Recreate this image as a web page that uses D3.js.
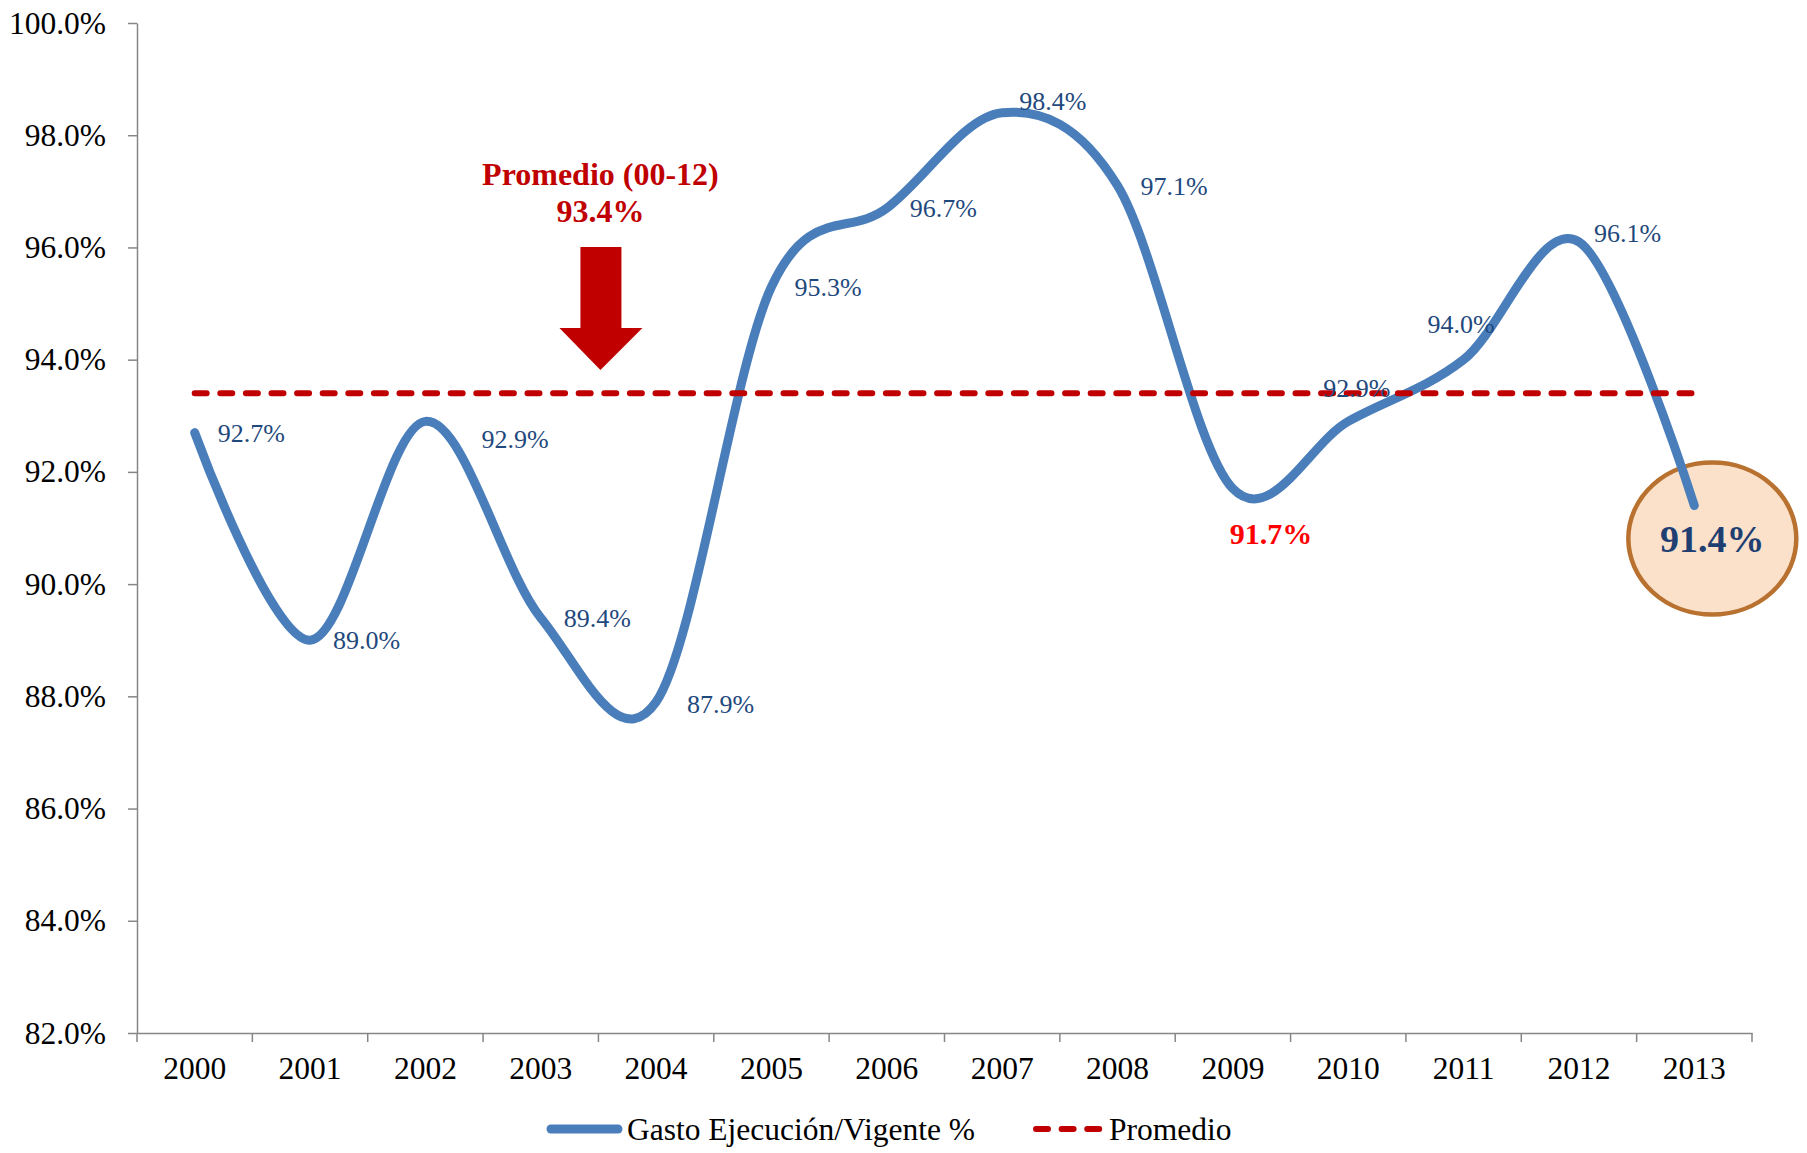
<!DOCTYPE html>
<html>
<head>
<meta charset="utf-8">
<script src="https://d3js.org/d3.v7.min.js"></script>
<style>
  body { margin: 0; background: #fff; }
  text { font-family: "Liberation Serif", "Times New Roman", serif; }
</style>
</head>
<body>
<script>
// data
var years = ["2000", "2001", "2002", "2003", "2004", "2005", "2006",
             "2007", "2008", "2009", "2010", "2011", "2012", "2013"];
var gasto = [92.7, 89.0, 92.9, 89.4, 87.9, 95.3, 96.7, 98.4, 97.1, 91.7, 92.9, 94.0, 96.1, 91.4];
var promedio = [93.4, 93.4, 93.4, 93.4, 93.4, 93.4, 93.4, 93.4, 93.4, 93.4, 93.4, 93.4, 93.4, 93.4];
var yTicks = [82, 84, 86, 88, 90, 92, 94, 96, 98, 100];
var seriesNames = ["Gasto Ejecución/Vigente %", "Promedio"];
var notaTitulo = "Promedio (00-12)";
var notaValor = "93.4%";

var width = 1807, height = 1153;
var plotL = 137, plotR = 1752, plotT = 23, plotB = 1033;
var axisColor = "#868686";
var blue = "#4a7ebb", red = "#c00000";

// label nudges (px from the point), default is right of the point
var nudge = {
  "2002": [56, 18], "2004": [31, 2], "2007": [17, -12],
  "2010": [-25, -33], "2011": [-36, -36], "2012": [15, -9]
};

var svg = d3.select("body").append("svg")
    .attr("width", width)
    .attr("height", height);

var x = d3.scaleBand().domain(years).range([plotL, plotR]);
var y = d3.scaleLinear().domain([82, 100]).range([plotB, plotT]);
var cx = function (d) { return x(d) + x.bandwidth() / 2; };
var fmt = function (v) { return d3.format(".1f")(v) + "%"; };

// y axis
var yAxis = svg.append("g")
    .attr("transform", "translate(" + plotL + ",0)")
    .call(d3.axisLeft(y).tickValues(yTicks).tickSize(9).tickSizeOuter(0)
      .tickPadding(22).tickFormat(function (d) { return d3.format(".1f")(d) + "%"; }));
yAxis.selectAll("line,path").attr("stroke", axisColor).attr("stroke-width", 1.5);
yAxis.selectAll("text").attr("font-size", 31.5).attr("fill", "#000")
    .attr("font-family", "Liberation Serif");

// x axis
var xAxis = svg.append("g")
    .attr("transform", "translate(0," + plotB + ")")
    .call(d3.axisBottom(x).tickSize(0).tickSizeOuter(0).tickPadding(24));
xAxis.select("path").attr("stroke", axisColor).attr("stroke-width", 1.5);
xAxis.selectAll("text").attr("font-size", 31.5).attr("fill", "#000")
    .attr("font-family", "Liberation Serif");
svg.append("g").selectAll("line")
    .data(d3.range(years.length + 1))
    .enter().append("line")
    .attr("x1", function (i) { return plotL + i * x.step(); })
    .attr("x2", function (i) { return plotL + i * x.step(); })
    .attr("y1", plotB).attr("y2", plotB + 9)
    .attr("stroke", axisColor).attr("stroke-width", 1.5);

// highlight ellipse around last value
var last = years.length - 1;
svg.append("ellipse")
    .attr("cx", cx(years[last]) + 18)
    .attr("cy", y(gasto[last]) + 33)
    .attr("rx", 84).attr("ry", 76)
    .attr("fill", "#fbe1ca")
    .attr("stroke", "#b8712f")
    .attr("stroke-width", 4.5);

// main line
var line = d3.line()
    .x(function (d, i) { return cx(years[i]); })
    .y(function (d) { return y(d); })
    .curve(d3.curveCardinal.tension(0));

svg.append("path")
    .datum(gasto)
    .attr("d", line)
    .attr("fill", "none")
    .attr("stroke", blue)
    .attr("stroke-width", 9)
    .attr("stroke-linecap", "round");

// average line
svg.append("path")
    .datum(promedio)
    .attr("d", line.curve(d3.curveLinear))
    .attr("fill", "none")
    .attr("stroke", red)
    .attr("stroke-width", 6)
    .attr("stroke-dasharray", "12,13.6")
    .attr("stroke-linecap", "round");

// data labels
gasto.forEach(function (v, i) {
  var yr = years[i];
  var px = cx(yr), py = y(v);
  if (i === last) {
    svg.append("text")
      .attr("x", px + 18).attr("y", py + 33).attr("dy", "0.35em")
      .attr("text-anchor", "middle")
      .attr("font-size", 38).attr("font-weight", "bold")
      .attr("fill", "#1f3f73")
      .text(fmt(v));
  } else if (yr === "2009") {
    svg.append("text")
      .attr("x", px + 38).attr("y", py + 45).attr("dy", "0.35em")
      .attr("text-anchor", "middle")
      .attr("font-size", 30).attr("font-weight", "bold")
      .attr("fill", "#ff0000")
      .text(fmt(v));
  } else {
    var n = nudge[yr] || [23, 0];
    svg.append("text")
      .attr("x", px + n[0]).attr("y", py + n[1]).attr("dy", "0.35em")
      .attr("font-size", 26)
      .attr("fill", "#1f497d")
      .text(fmt(v));
  }
});

// annotation with arrow
var ax = x("2004") + 2;
svg.append("text")
    .attr("x", ax).attr("y", 185)
    .attr("text-anchor", "middle")
    .attr("font-size", 32).attr("font-weight", "bold")
    .attr("fill", red)
    .text(notaTitulo);
svg.append("text")
    .attr("x", ax).attr("y", 222)
    .attr("text-anchor", "middle")
    .attr("font-size", 32).attr("font-weight", "bold")
    .attr("fill", red)
    .text(notaValor);
svg.append("path")
    .attr("d", "M" + (ax - 20) + ",247 H" + (ax + 21) + " V328 H" + (ax + 42) +
               " L" + ax + ",370 L" + (ax - 41) + ",328 H" + (ax - 20) + " Z")
    .attr("fill", red);

// legend
var lg = svg.append("g").attr("transform", "translate(0,1129)");
lg.append("line")
    .attr("x1", 551).attr("x2", 618).attr("y1", 0).attr("y2", 0)
    .attr("stroke", blue).attr("stroke-width", 9).attr("stroke-linecap", "round");
lg.append("text")
    .attr("x", 627).attr("y", 0).attr("dy", "0.35em")
    .attr("font-size", 31.5).attr("fill", "#000")
    .text(seriesNames[0]);
lg.append("line")
    .attr("x1", 1036).attr("x2", 1100).attr("y1", 0).attr("y2", 0)
    .attr("stroke", red).attr("stroke-width", 6)
    .attr("stroke-dasharray", "12,13.6").attr("stroke-linecap", "round");
lg.append("text")
    .attr("x", 1109).attr("y", 0).attr("dy", "0.35em")
    .attr("font-size", 31.5).attr("fill", "#000")
    .text(seriesNames[1]);
</script>
</body>
</html>
